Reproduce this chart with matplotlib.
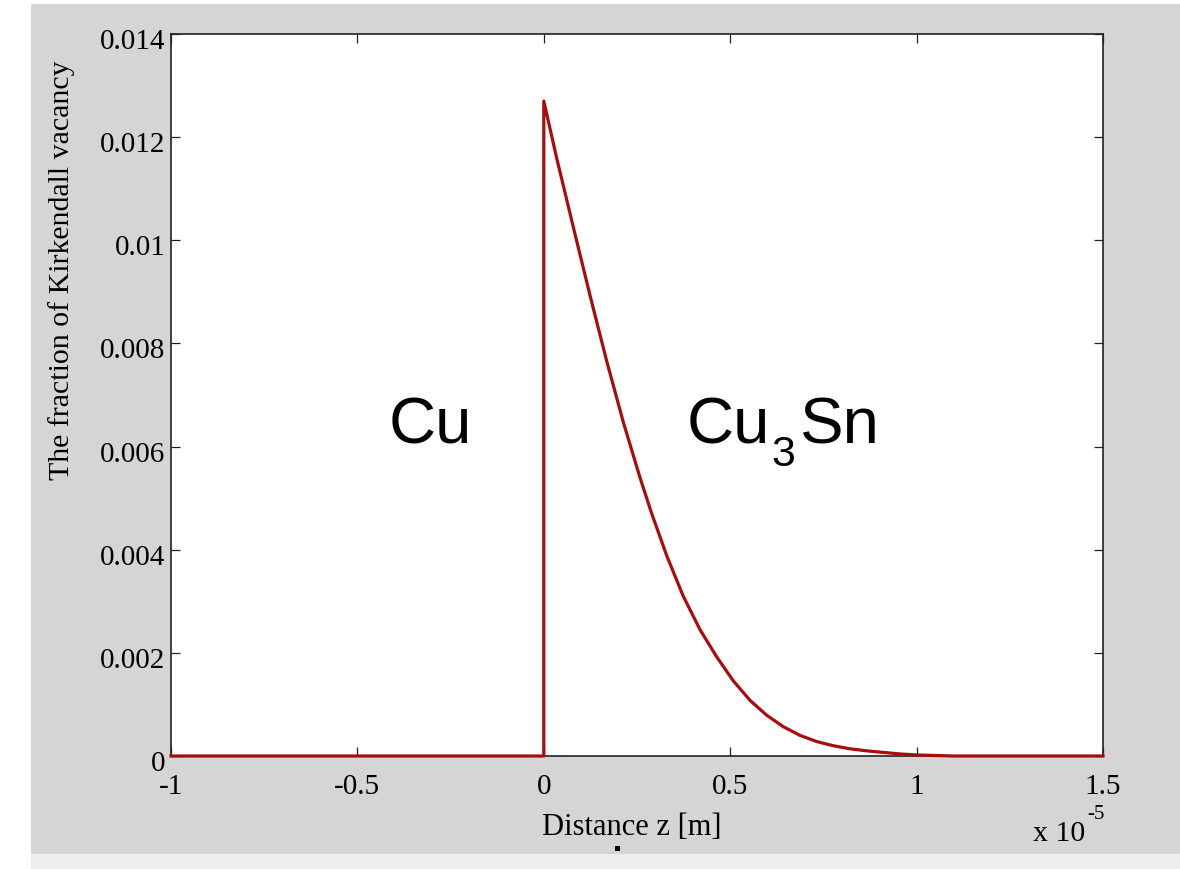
import matplotlib
matplotlib.use("Agg")
import matplotlib.pyplot as plt
from matplotlib.patches import Rectangle
from matplotlib.ticker import FixedLocator, FuncFormatter
from matplotlib.transforms import ScaledTranslation

# Kirkendall vacancy fraction profile across the Cu | Cu3Sn interface
# distance in units of 1e-5 m
z = [-1.0, 0.0, 0.0, 0.035, 0.079, 0.124, 0.169, 0.213, 0.258, 0.289,
     0.330, 0.374, 0.419, 0.464, 0.508, 0.553, 0.598, 0.642, 0.687,
     0.732, 0.776, 0.821, 0.866, 0.91, 0.955, 1.0, 1.05, 1.1, 1.5]
vacancy = [0.0, 0.0, 0.0127, 0.01158, 0.01026, 0.00893, 0.00765, 0.00648,
           0.0054, 0.00471, 0.00388, 0.0031, 0.00245, 0.00192, 0.00146,
           0.00108, 0.00079, 0.00057, 0.0004, 0.00028, 0.0002, 0.00014,
           0.0001, 0.00007, 0.00004, 0.00002, 0.00001, 0.0, 0.0]

x_ticks = [-1, -0.5, 0, 0.5, 1, 1.5]
y_ticks = [0, 0.002, 0.004, 0.006, 0.008, 0.01, 0.012, 0.014]

W, H = 1180, 870
fig = plt.figure(figsize=(W / 100, H / 100), dpi=100, facecolor="white")

# window background bands
fig.patches.append(Rectangle((31 / W, 15 / H), 1 - 31 / W, (H - 5 - 15) / H,
                             transform=fig.transFigure, facecolor="#d5d5d5",
                             edgecolor="none", zorder=-10))
fig.patches.append(Rectangle((31 / W, 0), 1 - 31 / W, 15 / H,
                             transform=fig.transFigure, facecolor="#ededed",
                             edgecolor="none", zorder=-10))

ax = fig.add_axes([171 / W, 1 - 757 / H, (1103 - 171) / W, (757 - 35) / H])
ax.set_zorder(1)
ax.set_facecolor("white")

ax.plot(z, vacancy, color="#a80c0c", lw=2.3, solid_joinstyle="round",
        clip_on=False, zorder=3)

ax.set_xlim(-1, 1.5)
ax.set_ylim(0, 0.014)

serif = ["Liberation Serif", "DejaVu Serif"]
sans = ["Liberation Sans", "DejaVu Sans"]

ax.xaxis.set_major_locator(FixedLocator(x_ticks))
ax.yaxis.set_major_locator(FixedLocator(y_ticks))
ax.xaxis.set_major_formatter(FuncFormatter(lambda v, p: f"{v:g}"))
ax.yaxis.set_major_formatter(FuncFormatter(lambda v, p: f"{v:g}"))
ax.tick_params(direction="in", length=6.5, width=0.9, color="#222222",
               top=True, right=True, labelsize=21)
ax.tick_params(axis="x", pad=12)
ax.tick_params(axis="y", pad=4)
for lab in ax.get_xticklabels() + ax.get_yticklabels():
    lab.set_fontfamily(serif)
# y tick labels sit a little below their ticks
shift = ScaledTranslation(0, -4 / 100, fig.dpi_scale_trans)
for lab in ax.get_yticklabels():
    lab.set_transform(lab.get_transform() + shift)

for sp in ax.spines.values():
    sp.set_linewidth(1.2)
    sp.set_color("#222222")

# axis labels
ax.text((632 - 171) / 932, -(828 - 757) / 722, "Distance z [m]",
        transform=ax.transAxes, ha="center", va="center",
        fontsize=22, family=serif)
fig.text(62 / W, 1 - 270 / H, "The fraction of Kirkendall vacancy",
         rotation=90, ha="center", va="center", fontsize=21.5, family=serif)

# exponent of the distance axis
fig.text(1085 / W, 1 - 834 / H, "x 10", ha="right", va="center",
         fontsize=21.5, family=serif)
fig.text(1087 / W, 1 - 815 / H, "-5", ha="left", va="center",
         fontsize=15, family=serif)

# phase labels
ax.text(-0.305, 0.0064, "Cu", ha="center", va="center",
        fontsize=47, family=sans)
ax.text(0.607, 0.0064, "Cu", ha="right", va="center",
        fontsize=47, family=sans)
ax.text(0.611, 0.00585, "3", ha="left", va="center",
        fontsize=31, family=sans)
ax.text(0.688, 0.0064, "Sn", ha="left", va="center",
        fontsize=47, family=sans)

# small cursor mark under the distance label
fig.patches.append(Rectangle((615 / W, 1 - 852 / H), 5 / W, 5 / H,
                             transform=fig.transFigure, facecolor="black",
                             edgecolor="none"))

fig.savefig("out.png", dpi=100, facecolor=fig.get_facecolor())
